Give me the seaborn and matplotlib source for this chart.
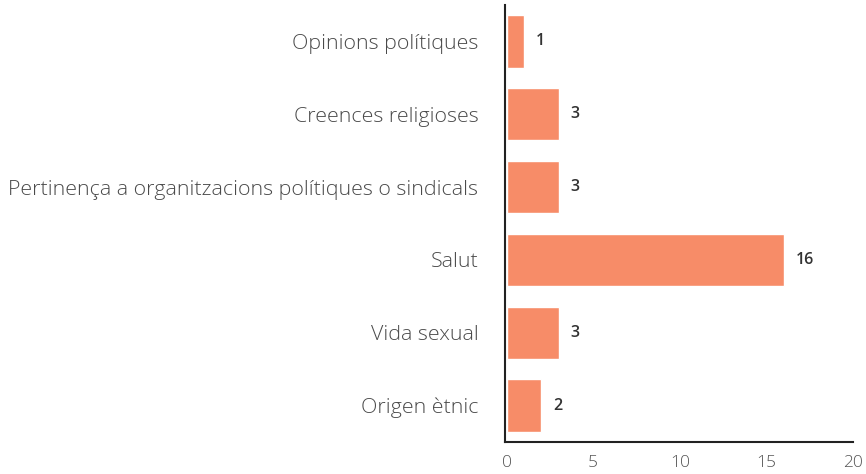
import numpy as np
import pandas as pd
import seaborn as sns
import matplotlib.pyplot as plt

categories = [
    'Opinions polítiques',
    'Creences religioses',
    'Pertinença a organitzacions polítiques o sindicals',
    'Salut',
    'Vida sexual',
    'Origen ètnic',
]
values = [1, 3, 3, 16, 3, 2]
x_ticks = [0, 5, 10, 15, 20]

BAR_COLOUR = '#F78C68'

sns.set_style('white')
plt.rcParams.update({
    'font.family': ['Open Sans', 'DejaVu Sans'],
})

df = pd.DataFrame({'category': categories, 'value': values})

fig = plt.figure(figsize=(8.66, 4.74), dpi=100)
ax = fig.add_axes([0.583, 0.0675, 0.402, 0.922])

sns.barplot(data=df, y='category', x='value', color=BAR_COLOUR, width=0.72,
            saturation=1, orient='h', ax=ax)

# value labels to the right of each bar
for i, v in enumerate(values):
    ax.text(v + 0.7, i, str(v), va='center', ha='left', fontsize=11.5,
            color='#333333', fontweight='semibold')

ax.set_xlim(-0.1, 20)
ax.set_ylim(5.5, -0.5)
ax.set_xticks(x_ticks)
ax.set_xlabel('')
ax.set_ylabel('')
ax.tick_params(axis='y', length=0, pad=19, labelsize=15.4, labelcolor='#4a4a4a')
ax.tick_params(axis='x', direction='in', length=8, width=1.2, color='#222222',
               pad=9, labelsize=12.5, labelcolor='#555555')
for lbl in ax.get_yticklabels() + ax.get_xticklabels():
    lbl.set_fontweight('light')

for side in ['top', 'right']:
    ax.spines[side].set_visible(False)
for side in ['left', 'bottom']:
    ax.spines[side].set_color('#222222')
    ax.spines[side].set_linewidth(1.5)

fig.savefig('out.png', dpi=100)
